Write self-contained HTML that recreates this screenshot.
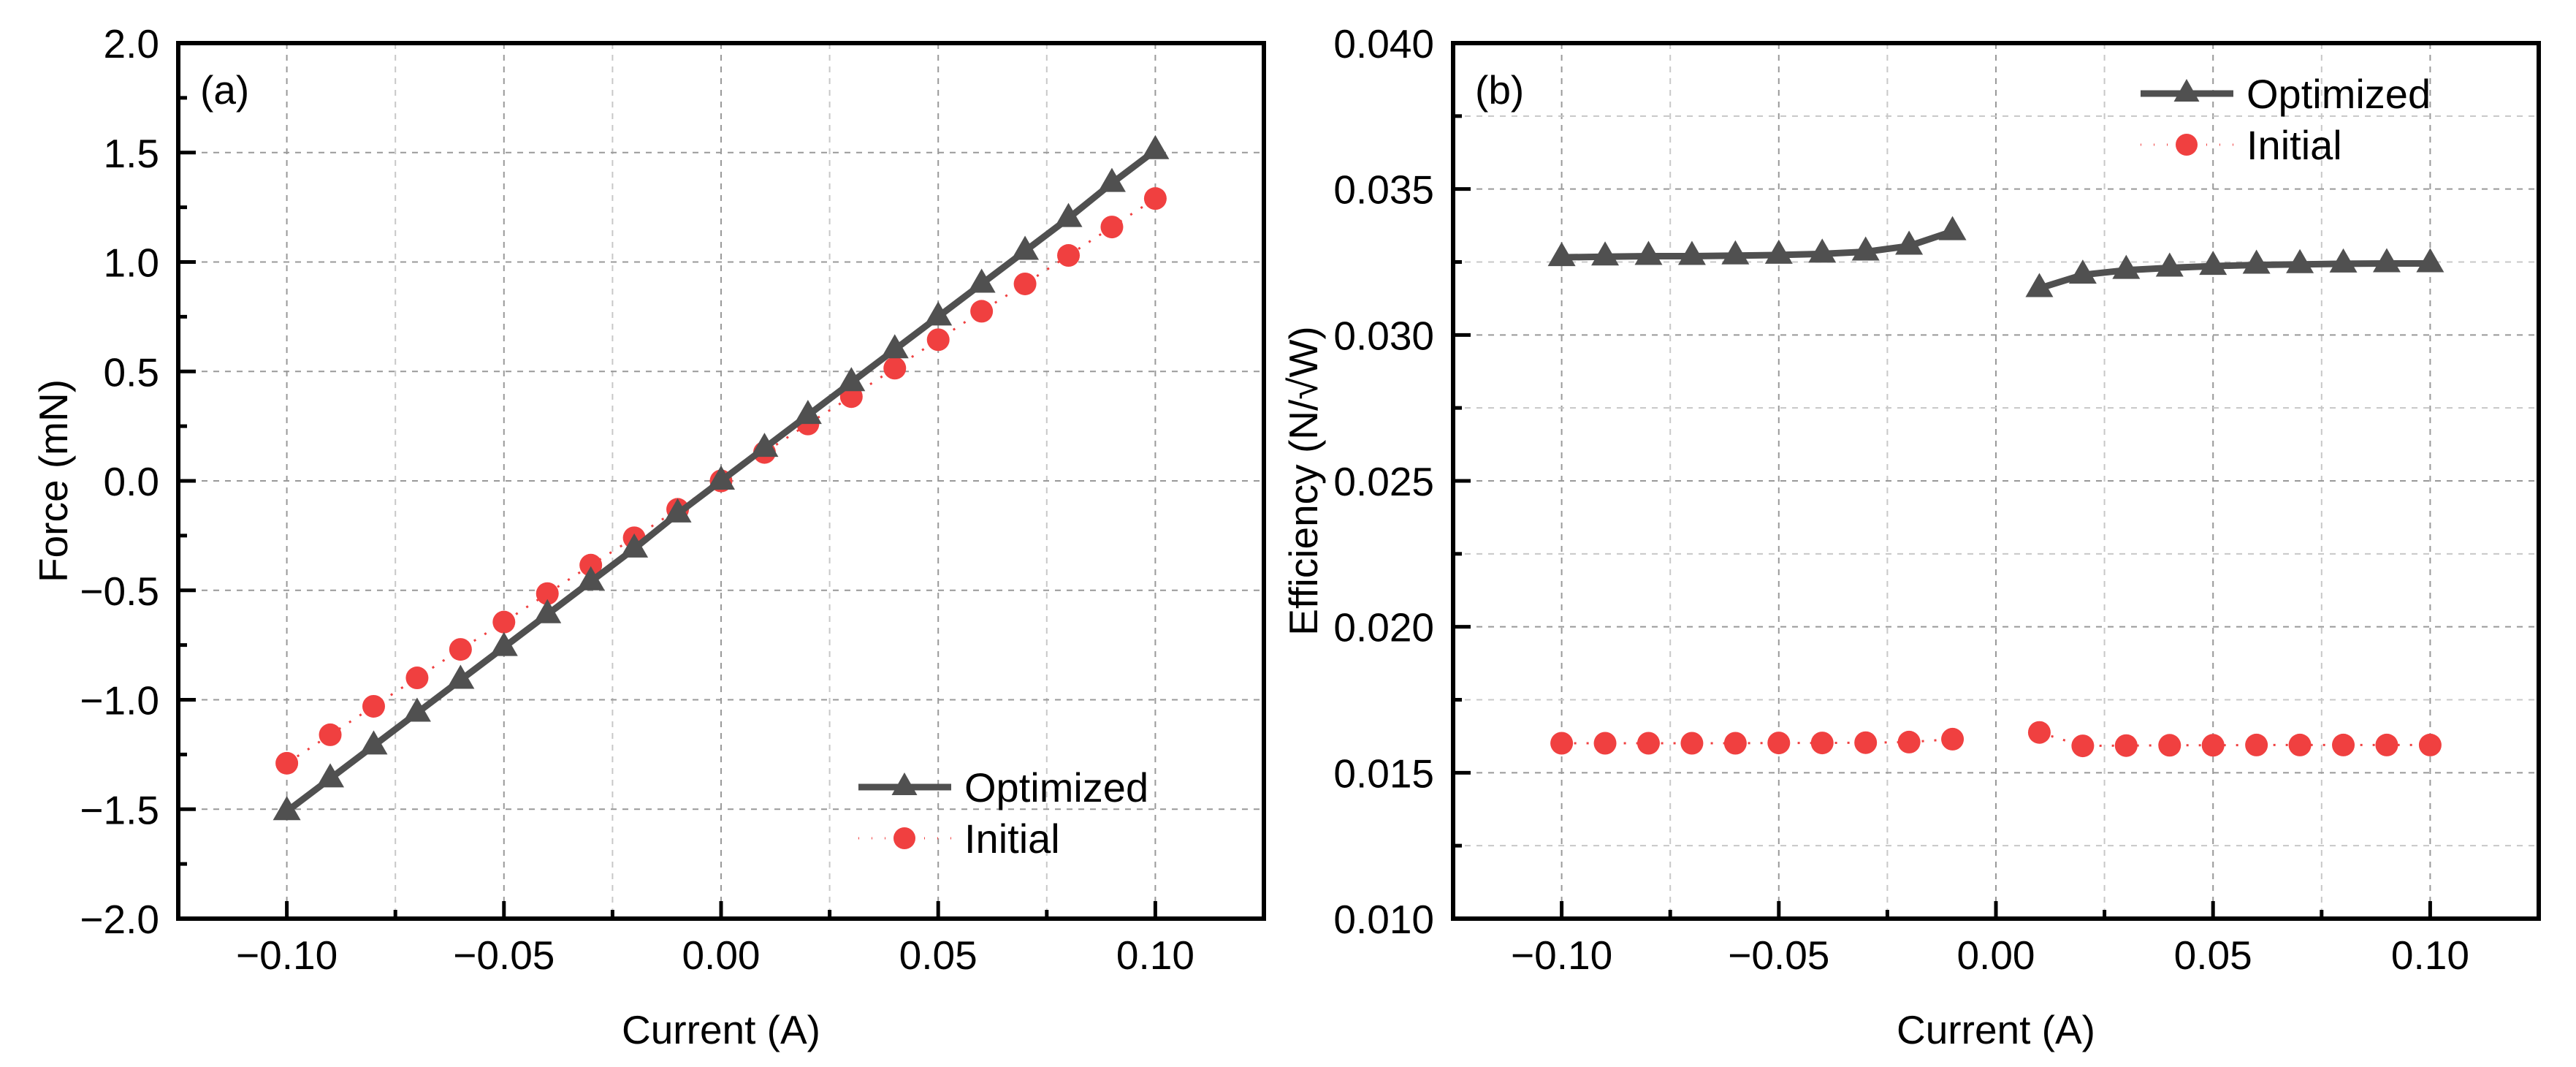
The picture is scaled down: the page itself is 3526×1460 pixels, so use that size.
<!DOCTYPE html>
<html><head><meta charset="utf-8"><style>
html,body{margin:0;padding:0;background:#fff;}
svg{display:block;font-family:"Liberation Sans",Arial,sans-serif;}
</style></head><body>
<svg id="fig" width="3526" height="1460" viewBox="0 0 3526 1460" xmlns="http://www.w3.org/2000/svg"></svg>
<script>
const currents = [-0.10,-0.09,-0.08,-0.07,-0.06,-0.05,-0.04,-0.03,-0.02,-0.01,0,0.01,0.02,0.03,0.04,0.05,0.06,0.07,0.08,0.09,0.10];
const forceOptimized = [-1.51,-1.36,-1.21,-1.06,-0.91,-0.76,-0.61,-0.46,-0.31,-0.15,0,0.15,0.30,0.45,0.60,0.75,0.90,1.05,1.20,1.36,1.51];
const forceInitial = [-1.29,-1.16,-1.03,-0.90,-0.77,-0.645,-0.515,-0.385,-0.26,-0.13,0,0.13,0.26,0.385,0.515,0.645,0.775,0.90,1.03,1.16,1.29];
const effCurrentsNeg = [-0.10,-0.09,-0.08,-0.07,-0.06,-0.05,-0.04,-0.03,-0.02,-0.01];
const effCurrentsPos = [0.01,0.02,0.03,0.04,0.05,0.06,0.07,0.08,0.09,0.10];
const effOptNeg = [0.03266,0.03268,0.0327,0.0327,0.03272,0.03274,0.03278,0.03285,0.03305,0.03355];
const effOptPos = [0.0316,0.03206,0.03222,0.0323,0.03236,0.0324,0.03242,0.03244,0.03245,0.03245];
const effIniNeg = [0.01601,0.01601,0.01601,0.01601,0.01601,0.01602,0.01602,0.01603,0.01605,0.01615];
const effIniPos = [0.01638,0.01592,0.01593,0.01594,0.01594,0.01595,0.01595,0.01595,0.01595,0.01595];
const xTicks = [-0.10,-0.05,0,0.05,0.10];
const xTickLabels = ["\u22120.10","\u22120.05","0.00","0.05","0.10"];
const yTicksA = [-2,-1.5,-1,-0.5,0,0.5,1,1.5,2];
const yTickLabelsA = ["\u22122.0","\u22121.5","\u22121.0","\u22120.5","0.0","0.5","1.0","1.5","2.0"];
const yTicksB = [0.010,0.015,0.020,0.025,0.030,0.035,0.040];
const yTickLabelsB = ["0.010","0.015","0.020","0.025","0.030","0.035","0.040"];

const NS="http://www.w3.org/2000/svg";
const svg=document.getElementById('fig');
function mk(tag,attrs,parent){const e=document.createElementNS(NS,tag);for(const k in attrs)e.setAttribute(k,attrs[k]);(parent||svg).appendChild(e);return e;}
const GREY="#505050", RED="#f04040", FS=55;

function panel(o){
  const g=mk('g',{});
  
  
  const X=v=>o.L+(v-o.xmin)/(o.xmax-o.xmin)*(o.R-o.L);
  const Y=v=>o.B-(v-o.ymin)/(o.ymax-o.ymin)*(o.B-o.T);
  for(let v=o.xmin+0.025;v<o.xmax-1e-9;v+=0.025){
    const major=Math.abs(Math.round(v/0.05)*0.05-v)<1e-9;
    const l=mk('line',{x1:X(v),x2:X(v),y1:o.T,y2:o.B,stroke:major?'#999':'#c8c8c8','stroke-width':2,'stroke-dasharray':'8 8'},g);
    
    
  }
  for(let v=o.ymin+o.gstep;v<o.ymax-1e-9;v+=o.gstep){
    const major=Math.abs(Math.round(v/o.ystep)*o.ystep-v)<1e-9;
    const l=mk('line',{x1:o.L,x2:o.R,y1:Y(v),y2:Y(v),stroke:major?'#999':'#c8c8c8','stroke-width':2,'stroke-dasharray':'8 8'},g);
    
    
  }
  for(let v=o.xmin+0.025;v<o.xmax-1e-9;v+=0.025){
    const major=Math.abs(Math.round(v/0.05)*0.05-v)<1e-9;
    mk('line',{x1:X(v),x2:X(v),y1:o.B,y2:o.B-(major?24:12),stroke:'#000','stroke-width':5},g);
  }
  for(let v=o.ymin+o.ystep/2;v<o.ymax-1e-9;v+=o.ystep/2){
    const major=Math.abs(Math.round(v/o.ystep)*o.ystep-v)<1e-9;
    mk('line',{x1:o.L,x2:o.L+(major?24:12),y1:Y(v),y2:Y(v),stroke:'#000','stroke-width':5},g);
  }
  xTicks.forEach((v,i)=>{const t=mk('text',{x:X(v),y:1326,'font-size':FS,'text-anchor':'middle'},g);t.textContent=xTickLabels[i];
    });
  o.yt.forEach((v,i)=>{const t=mk('text',{x:o.L-26,y:Y(v)+20,'font-size':FS,'text-anchor':'end'},g);t.textContent=o.ytl[i];
    });
  const xt=mk('text',{x:(o.L+o.R)/2,y:1428,'font-size':FS,'text-anchor':'middle'},g);xt.textContent='Current (A)';
  
  const yt=mk('text',{x:0,y:0,'font-size':FS,'text-anchor':'middle',transform:`translate(${o.ytx},${(o.T+o.B)/2}) rotate(-90)`},g);yt.textContent=o.ytitle;
  
  const lab=mk('text',{x:o.L+30,y:142,'font-size':FS},g);lab.textContent=o.label;
  
  o.series.forEach(s=>{
    s.segs.forEach(seg=>{
      const pts=seg.x.map((xv,i)=>X(xv)+','+Y(seg.y[i])).join(' ');
      const pl=mk('polyline',{points:pts,fill:'none',stroke:s.opt?GREY:RED,'stroke-width':s.opt?9:3,'stroke-dasharray':s.opt?'none':'3 14','stroke-linejoin':'round'},g);
      
      
      seg.x.forEach((xv,i)=>{
        const cx=X(xv),cy=Y(seg.y[i]);
        let m;
        if(s.opt) m=mk('polygon',{points:`${cx},${cy-21} ${cx-19},${cy+12} ${cx+19},${cy+12}`,fill:GREY},g);
        else m=mk('circle',{cx:cx,cy:cy,r:15.5,fill:RED},g);
        
        
      });
    });
  });
  const lg=mk('g',{},g);
  
  
  const [lx,ly]=o.leg;
  mk('line',{x1:lx,x2:lx+127,y1:ly,y2:ly,stroke:GREY,'stroke-width':9},lg);
  mk('polygon',{points:`${lx+63},${ly-20} ${lx+45.5},${ly+11} ${lx+80.5},${ly+11}`,fill:GREY},lg);
  const t1=mk('text',{x:lx+145,y:ly+20,'font-size':56},lg);t1.textContent='Optimized';
  
  const ly2=ly+70;
  mk('line',{x1:lx,x2:lx+127,y1:ly2,y2:ly2,stroke:RED,'stroke-width':3,'stroke-dasharray':'1 17'},lg);
  mk('circle',{cx:lx+63,cy:ly2,r:15,fill:RED},lg);
  const t2=mk('text',{x:lx+145,y:ly2+20,'font-size':56},lg);t2.textContent='Initial';
  
  const fr=mk('rect',{x:o.L,y:o.T,width:o.R-o.L,height:o.B-o.T,fill:'none',stroke:'#000','stroke-width':6},g);
  
  
}

panel({name:'panel-a-force',L:244,R:1730,T:59,B:1257,xmin:-0.125,xmax:0.125,ymin:-2,ymax:2,ystep:0.5,gstep:0.5,
  yt:yTicksA,ytl:yTickLabelsA,ytitle:'Force (mN)',ytx:92,label:'(a)',leg:[1175,1077],
  series:[{opt:false,segs:[{x:currents,y:forceInitial}]},{opt:true,segs:[{x:currents,y:forceOptimized}]}]});
panel({name:'panel-b-efficiency',L:1989,R:3475,T:59,B:1257,xmin:-0.125,xmax:0.125,ymin:0.010,ymax:0.040,ystep:0.005,gstep:0.0025,
  yt:yTicksB,ytl:yTickLabelsB,ytitle:'Efficiency (N/\u221AW)',ytx:1803,label:'(b)',leg:[2930,128],
  series:[{opt:false,segs:[{x:effCurrentsNeg,y:effIniNeg},{x:effCurrentsPos,y:effIniPos}]},
          {opt:true,segs:[{x:effCurrentsNeg,y:effOptNeg},{x:effCurrentsPos,y:effOptPos}]}]});
</script>
</body></html>
